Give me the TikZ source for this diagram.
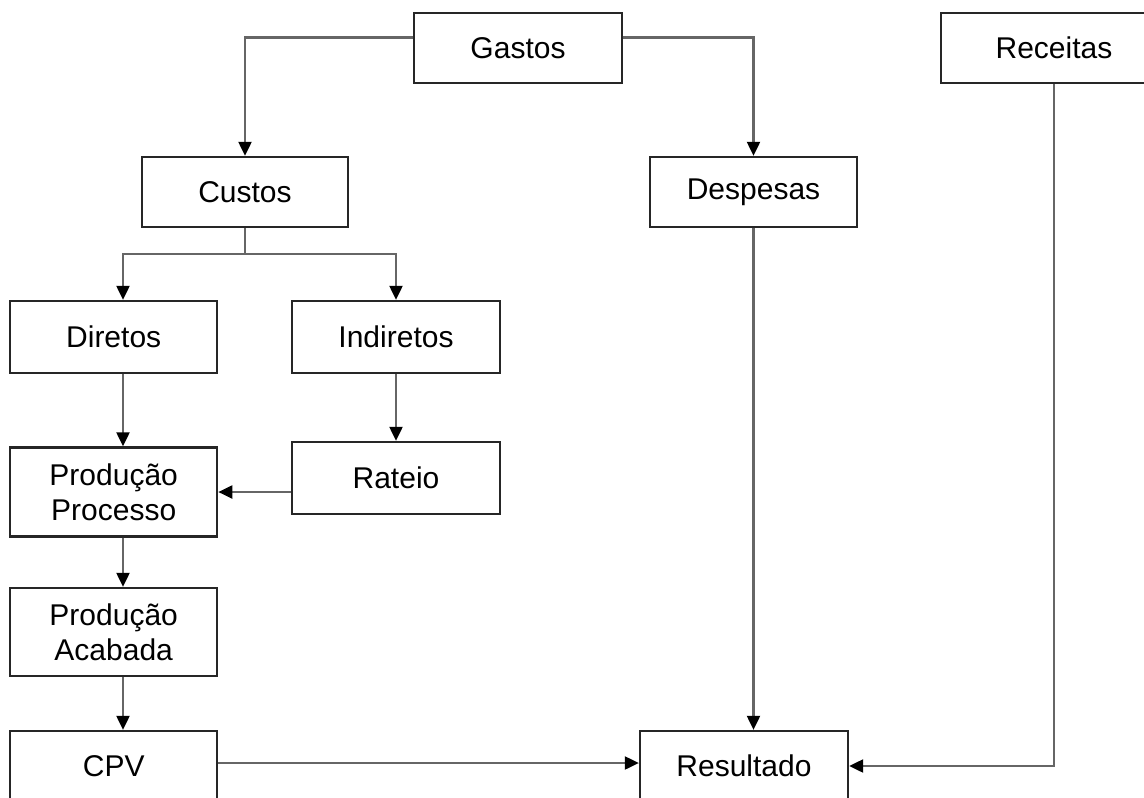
\documentclass[tikz,border=0pt]{standalone}
\usepackage{fontspec}
\setmainfont{Liberation Sans}
\usetikzlibrary{arrows.meta}
\begin{document}
\begin{tikzpicture}[x=1pt,y=-1pt,
  box/.style={draw=black!85, line width=2.3pt, minimum height=70pt, inner sep=0pt,
    align=center, font=\fontsize{30}{35}\selectfont},
  link/.style={draw=black!60, line width=2.1pt},
  arr/.style={link, -{Triangle[width=13pt,length=14pt,color=black]}}]
\useasboundingbox (0,0) rectangle (1144,798);
\clip (0,0) rectangle (1144,798);
\fill[white] (0,0) rectangle (1144,798);
% nodes
\node[box, minimum width=208pt] (g) at (518,48) {Gastos};
\node[box, minimum width=226pt] (rc) at (1054,48) {Receitas};
\node[box, minimum width=206pt] (c) at (245,192) {Custos};
\node[box, minimum width=207pt] (d) at (753.5,192) {Despesas};
\node[box, minimum width=207pt, minimum height=72pt] (di) at (113.7,337) {Diretos};
\node[box, minimum width=208pt, minimum height=72pt] (in) at (396,337) {Indiretos};
\node[box, minimum width=208pt, minimum height=72pt] (r) at (396,478) {Rateio};
\node[box, minimum width=207pt, minimum height=89pt] (pp) at (113.7,492) {Produção\\Processo};
\node[box, minimum width=207pt, minimum height=88pt] (pa) at (113.7,632) {Produção\\Acabada};
\node[box, minimum width=207pt] (cpv) at (113.7,766) {CPV};
\node[box, minimum width=208pt] (res) at (744,766) {Resultado};
% helper coordinates
\coordinate (colx) at (123,0);
\coordinate (cs) at (245,253.6);
% connectors
\draw[arr] ([yshift=10.5pt]g.west) -| (c.north);
\draw[arr] ([yshift=10.5pt]g.east) -| (d.north);
\draw[link] (c.south) -- (cs);
\draw[arr] (cs) -| (di.north -| colx);
\draw[arr] (cs) -| (in.north);
\draw[arr] (di.south -| colx) -- (pp.north -| colx);
\draw[arr] (in.south) -- (r.north);
\draw[arr] (r.west |- pp.east) -- (pp.east);
\draw[arr] (pp.south -| colx) -- (pa.north -| colx);
\draw[arr] (pa.south -| colx) -- (cpv.north -| colx);
\draw[arr] ([yshift=3pt]cpv.east) -- ([yshift=3pt]res.west);
\draw[arr] (d.south) -- (d.south |- res.north);
\draw[arr] (rc.south) |- (res.east);
\end{tikzpicture}
\end{document}
